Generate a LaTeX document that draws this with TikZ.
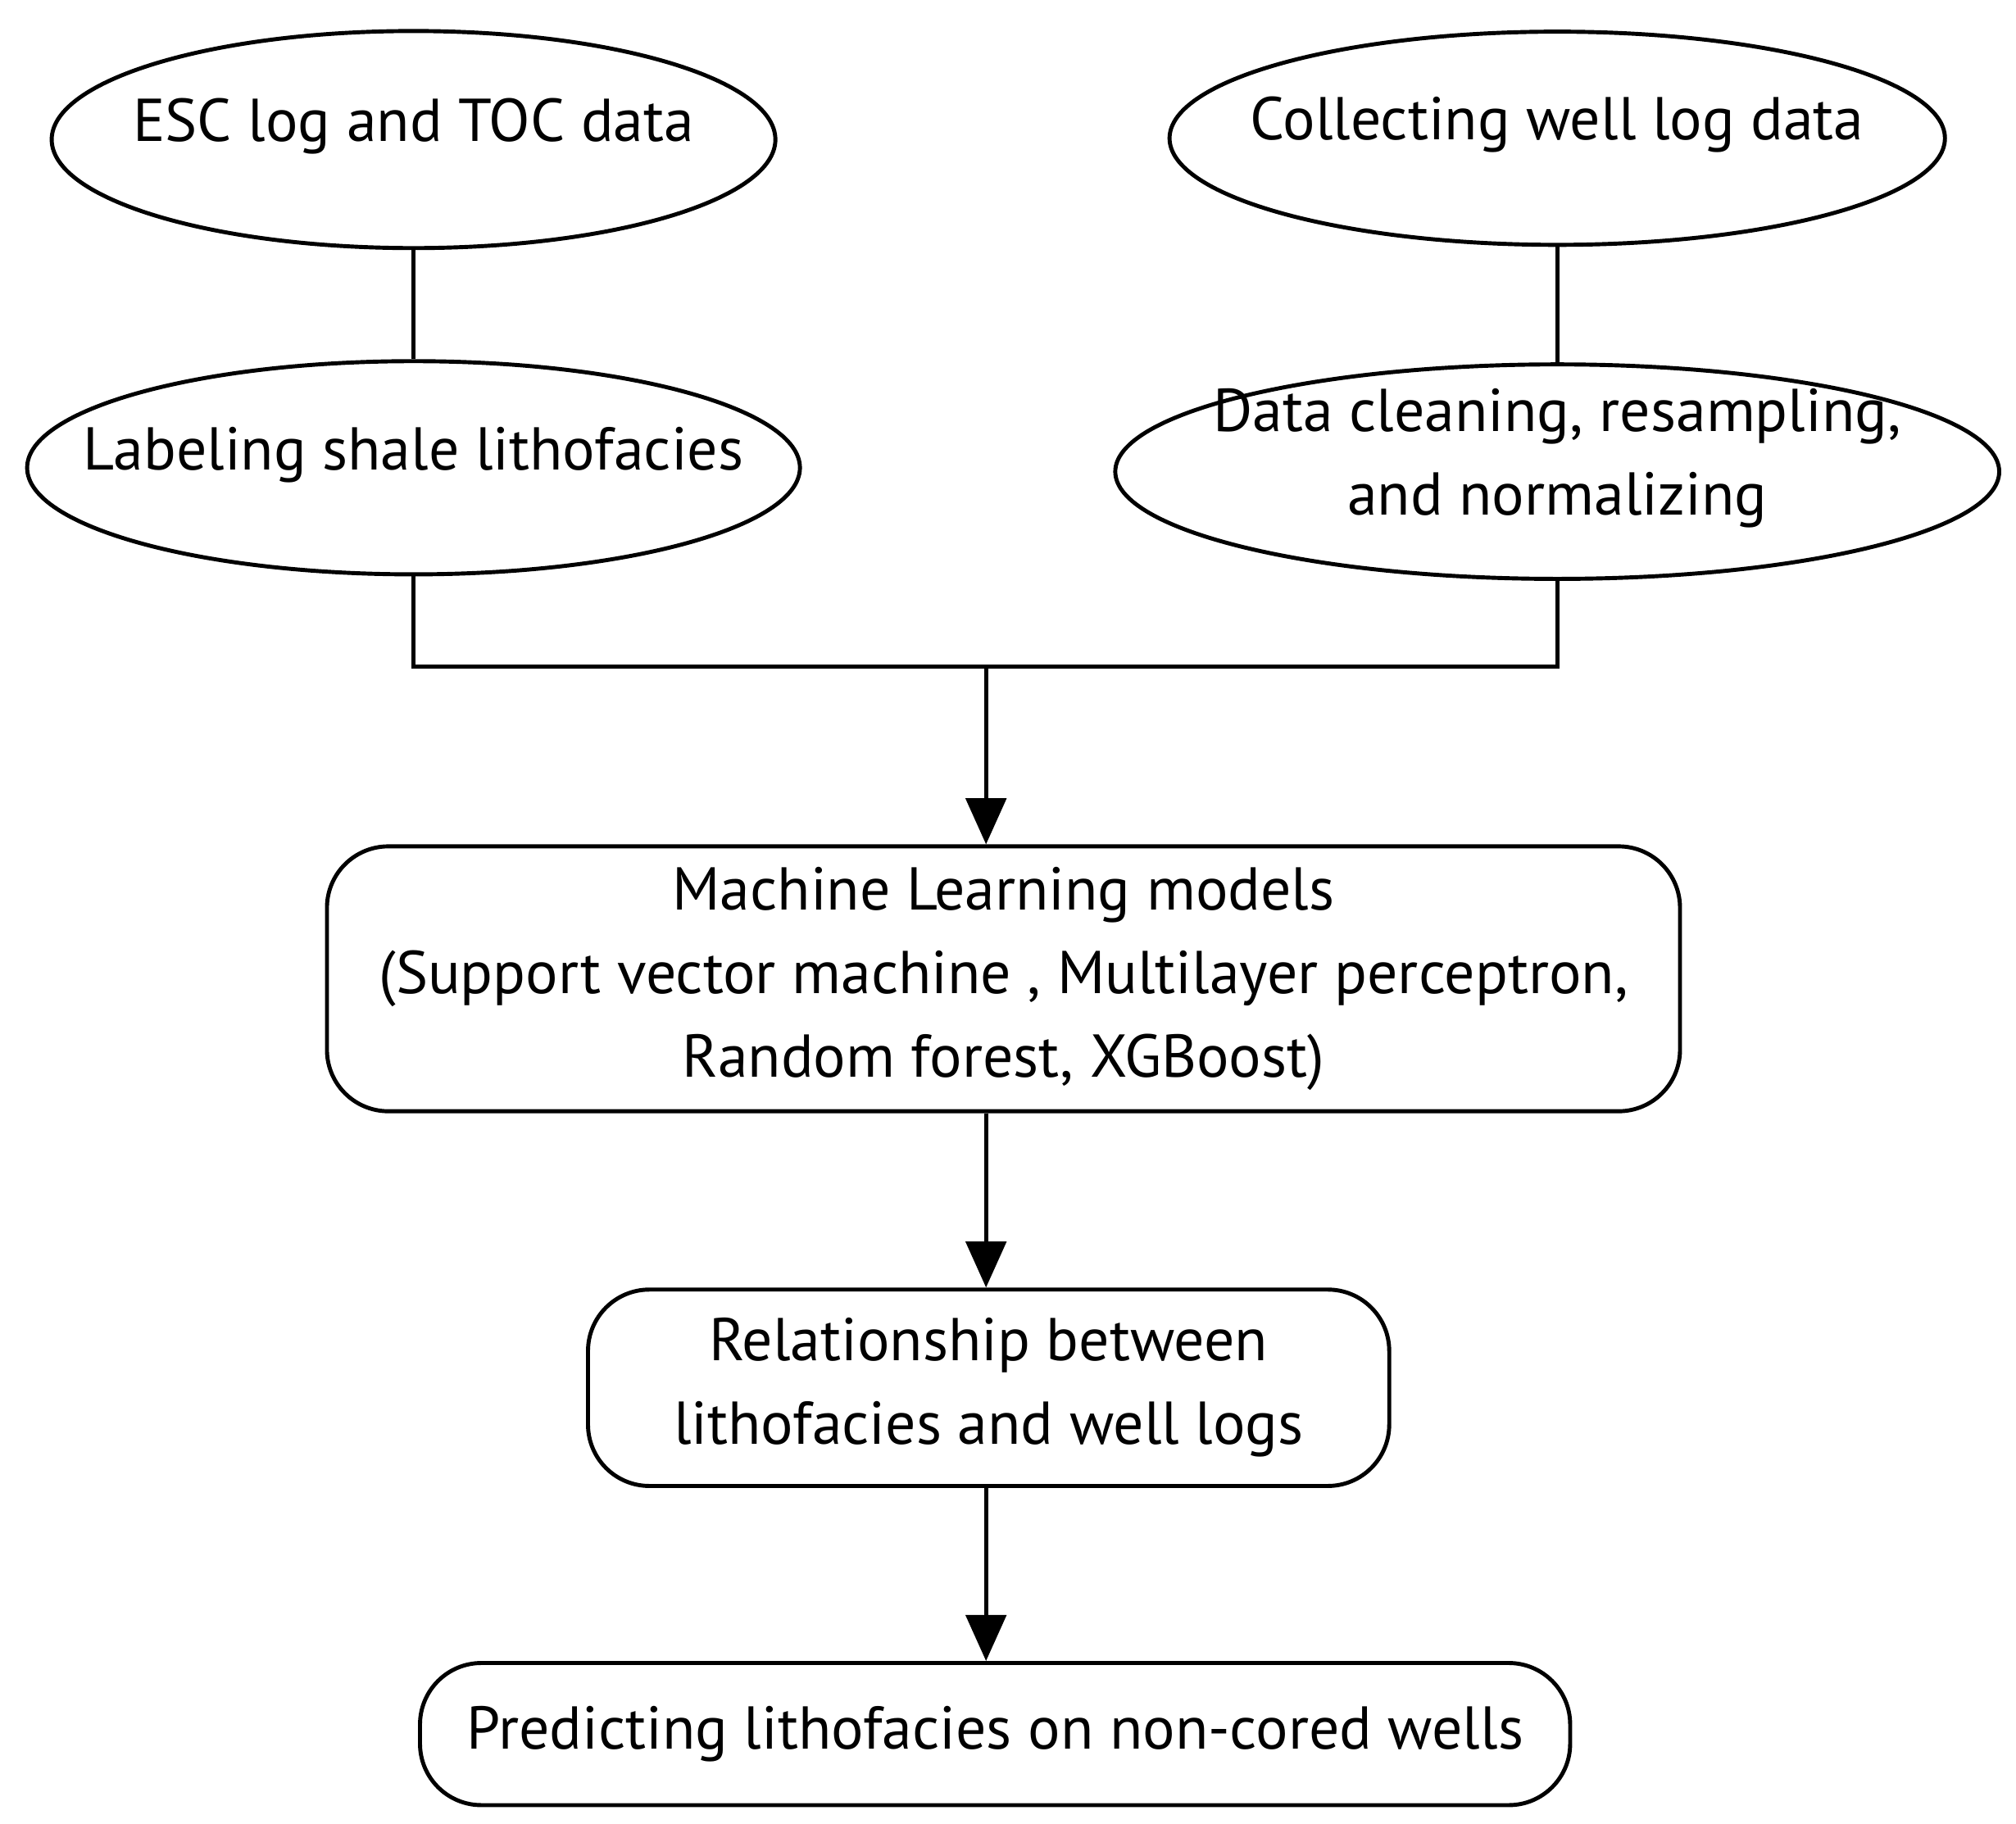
\documentclass[tikz,border=0pt]{standalone}
\usepackage{fontspec}
\setmainfont{PT Sans}
\usetikzlibrary{shapes.geometric,arrows.meta}
\newcommand{\zt}[1]{\smash{\makebox[0pt]{\begin{tabular}{@{}c@{}}#1\end{tabular}}}}
\begin{document}
\begin{tikzpicture}[x=0.01577cm,y=-0.01577cm,
  every node/.style={font=\fontsize{21}{29}\selectfont,align=center,line width=1.4pt,inner sep=0pt},
  ell/.style={draw,ellipse},
  box/.style={draw,rectangle,rounded corners=0.75cm},
  line/.style={line width=1.4pt},
  arr/.style={line,-{Triangle[width=14pt,length=16pt,fill=black]}}]
\useasboundingbox (0,0) rectangle (1560,1411);
\node[ell,minimum width=560*0.01577cm,minimum height=168*0.01577cm] (esc) at (320,108) {\zt{ESC log and TOC data}};
\node[ell,minimum width=600*0.01577cm,minimum height=165*0.01577cm] (col) at (1205,107) {\zt{Collecting well log data}};
\node[ell,minimum width=598*0.01577cm,minimum height=165*0.01577cm] (lab) at (320,362) {\zt{Labeling shale lithofacies}};
\node[ell,minimum width=684*0.01577cm,minimum height=166*0.01577cm] (dat) at (1205,365) {\zt{Data cleaning, resampling,\\and normalizing}};
\node[box,minimum width=1047*0.01577cm,minimum height=205*0.01577cm] (ml) at (776.5,757.5) {Machine Learning models\\(Support vector machine , Multilayer perceptron,\\Random forest, XGBoost)};
\node[box,minimum width=620*0.01577cm,minimum height=152*0.01577cm] (rel) at (765,1074) {Relationship between\\lithofacies and well logs};
\node[box,minimum width=890*0.01577cm,minimum height=110*0.01577cm] (pred) at (770,1342) {Predicting lithofacies on non-cored wells};
\coordinate (jl) at (320,516);
\coordinate (jr) at (1205,516);
\coordinate (jm) at (763,516);
\coordinate (c1) at (763,900);
\coordinate (c2) at (763,1200);
\draw[line] (esc) -- (lab);
\draw[line] (col) -- (dat);
\draw[line] (lab.south) -- (jl) -- (jr) -- (dat.south);
\draw[arr] (jm) -- (jm |- ml.north);
\draw[arr] (c1 |- ml.south) -- (c1 |- rel.north);
\draw[arr] (c2 |- rel.south) -- (c2 |- pred.north);
\end{tikzpicture}
\end{document}
